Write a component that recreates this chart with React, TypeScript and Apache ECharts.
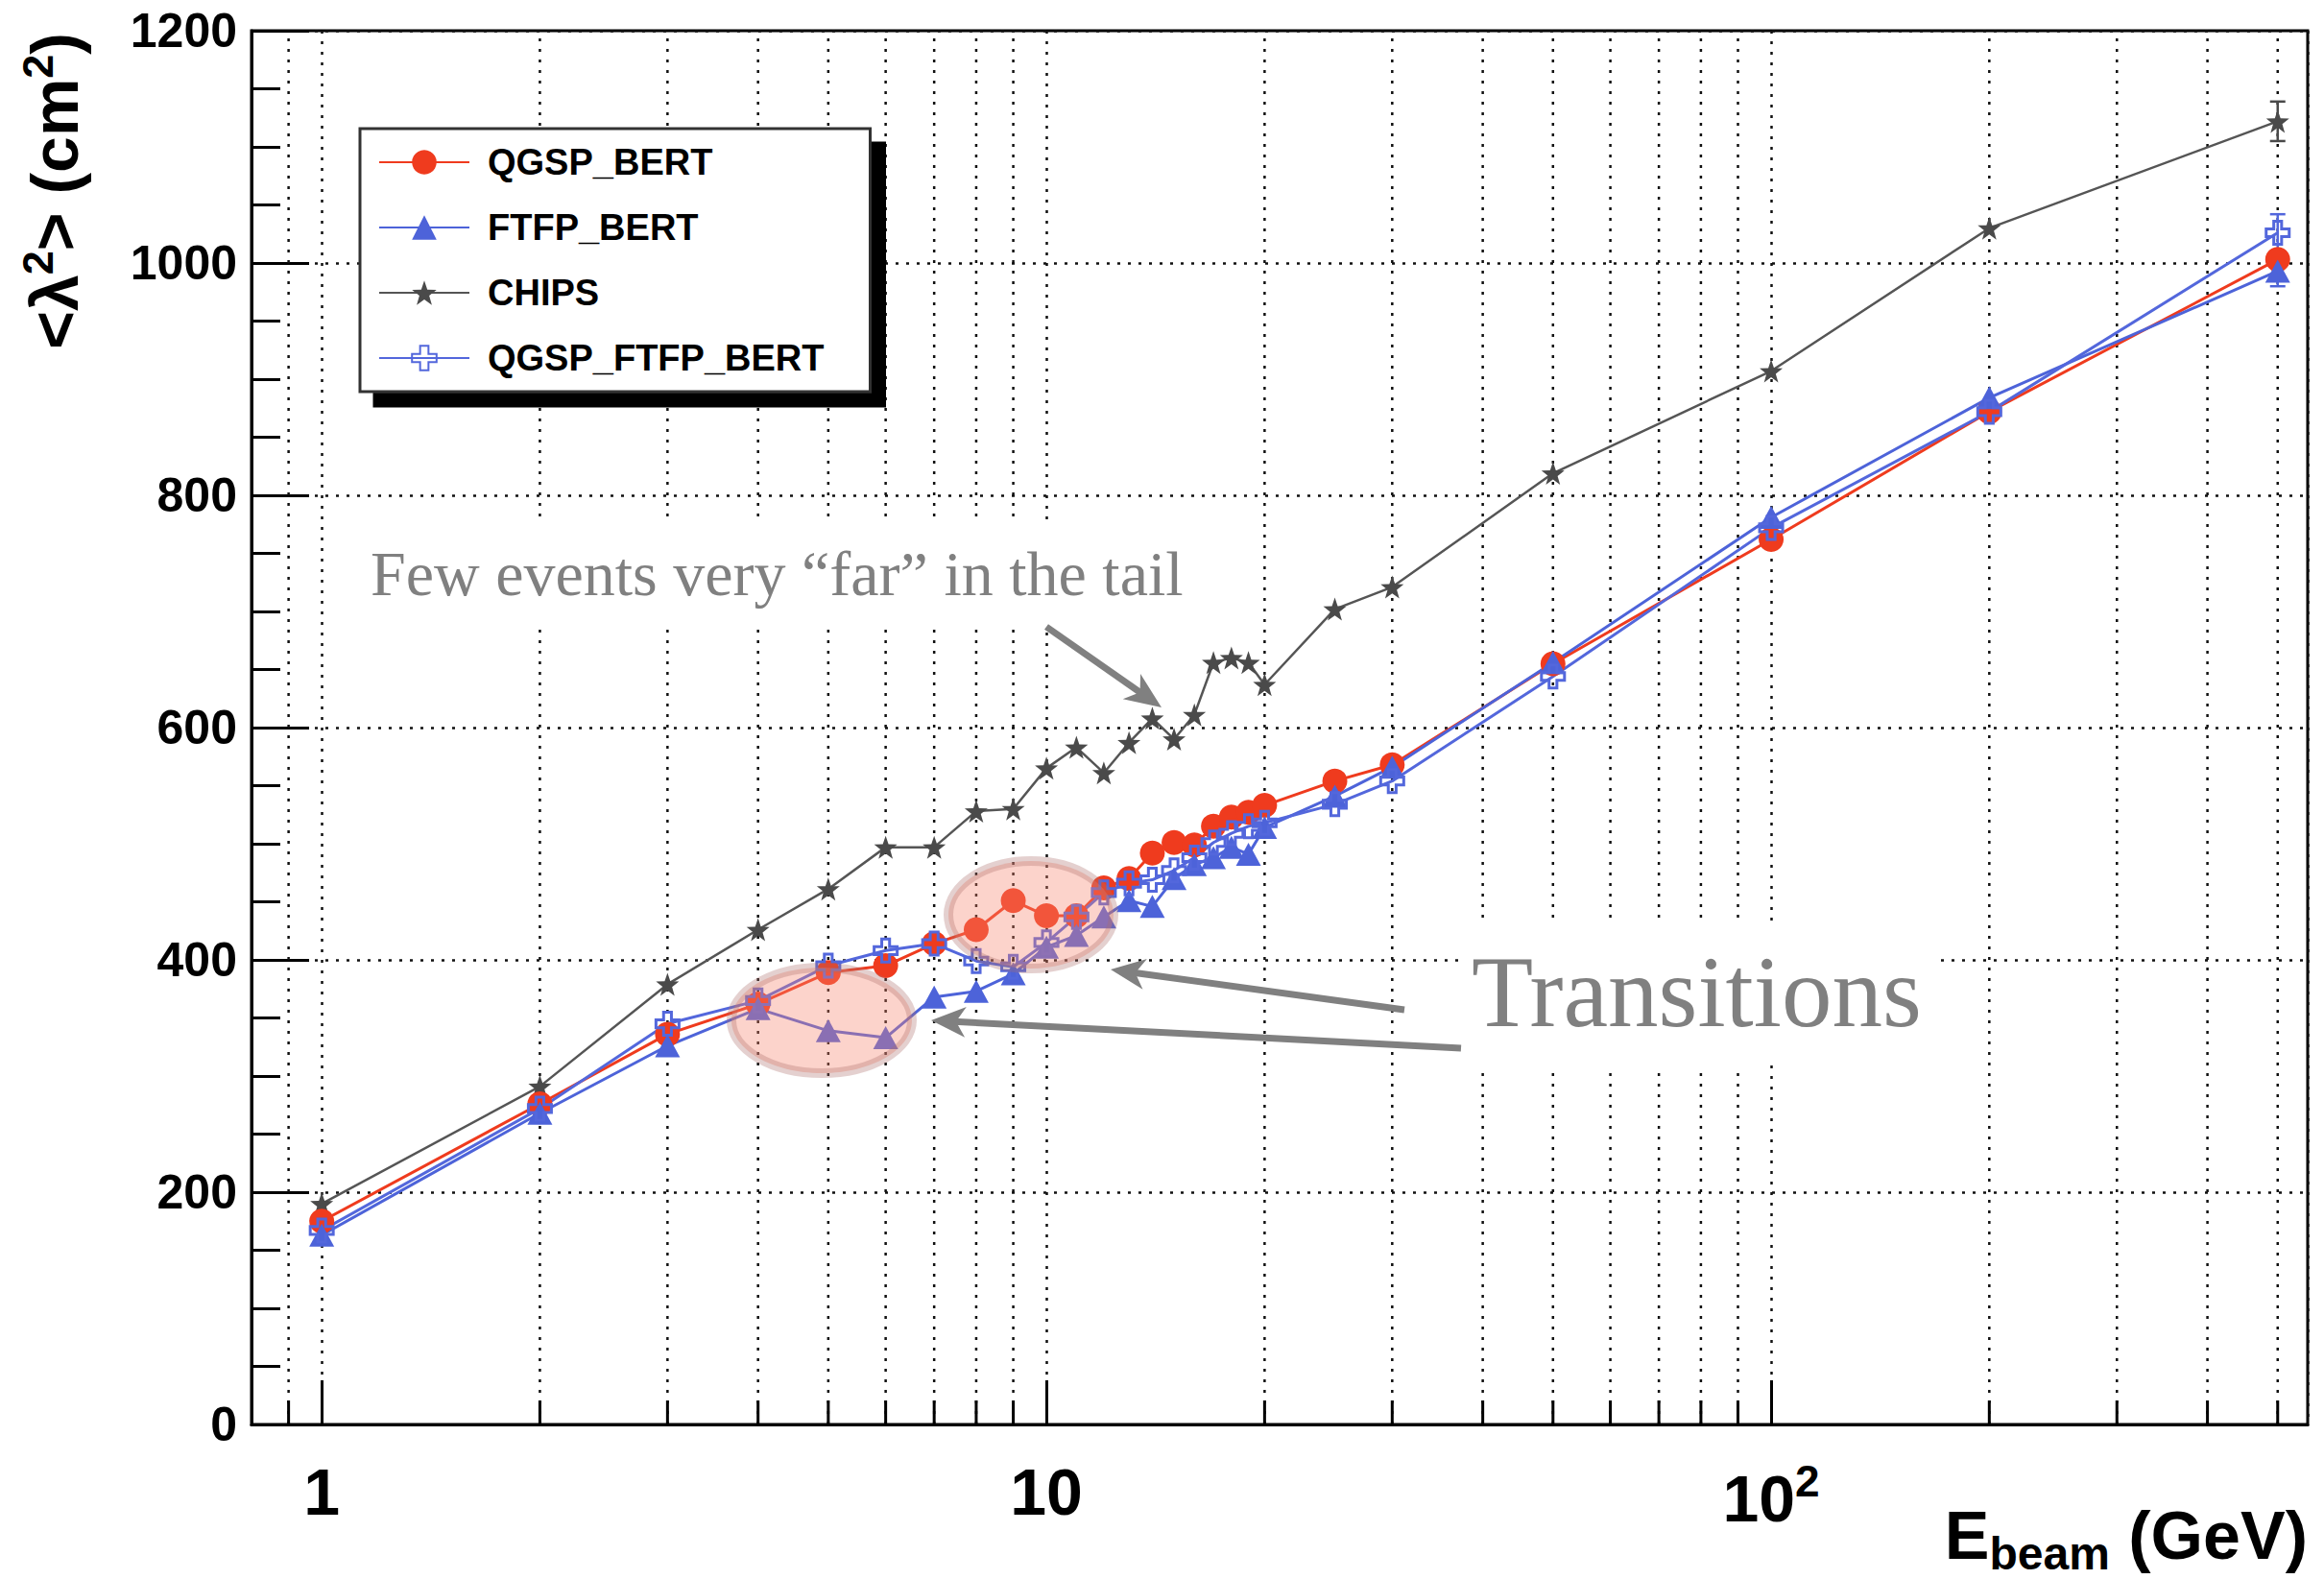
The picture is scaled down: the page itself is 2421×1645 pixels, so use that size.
import React, { useEffect, useRef } from "react";
import * as echarts from "echarts";

// ---------------- data ----------------
const energies = [1, 2, 3, 4, 5, 6, 7, 8, 9, 10, 11, 12, 13, 14, 15, 16, 17, 18, 19, 20, 25, 30, 50, 100, 200, 500];
const qgspBert = [175, 276, 336, 362, 389, 395, 414, 426, 451, 438, 438, 462, 470, 492, 501, 499, 515, 523, 527, 533, 554, 568, 655, 762, 872, 1003];
const ftfpBert = [163, 268, 326, 358, 339, 333, 368, 373, 388, 411, 421, 437, 451, 446, 470, 482, 488, 497, 491, 514, 541, 566, 656, 781, 884, 993];
const chips = [190, 291, 379, 426, 461, 497, 497, 528, 530, 565, 583, 561, 587, 608, 590, 611, 656, 660, 656, 637, 702, 721, 819, 907, 1030, 1122];
const qgspFtfpBert = [167, 272, 345, 365, 395, 408, 414, 399, 394, 415, 437, 458, 466, 469, 477, 488, 501, 509, 515, 518, 534, 554, 644, 772, 872, 1026];

const seriesNames = ["QGSP_BERT", "FTFP_BERT", "CHIPS", "QGSP_FTFP_BERT"];

// error bars visible at the highest energy
const errSeries = ["CHIPS", "QGSP_FTFP_BERT", "FTFP_BERT"];
const errE = [500, 500, 500];
const errLo = [1105, 1010, 980];
const errHi = [1139, 1042, 1005];

// minor log ticks / grid lines
const xMinorTicks = [0.9, 2, 3, 4, 5, 6, 7, 8, 9, 20, 30, 40, 50, 60, 70, 80, 90, 200, 300, 400, 500];

const X_MIN = 0.8;
const X_MAX = 550;
const Y_MIN = 0;
const Y_MAX = 1200;

// ---------------- styles ----------------
const RED = "#ef3b1e";
const BLUE = "#4d63d9";
const BLUE2 = "#5367dc";
const GRAY = "#4a4a4a";
const colorOf: Record<string, string> = {
  QGSP_BERT: RED,
  FTFP_BERT: BLUE,
  CHIPS: GRAY,
  QGSP_FTFP_BERT: BLUE2,
};

const STAR =
  "path://M50,0L61.8,33.8L97.6,34.5L69,56.2L79.4,90.5L50,70L20.6,90.5L31,56.2L2.4,34.5L38.2,33.8Z";
const CROSS = "path://M33,0H67V33H100V67H67V100H33V67H0V33H33Z";

const FONT = "Liberation Sans";
const SERIF = "Liberation Serif";
const GRID_DASH = [3, 8];

function pairs(vals: number[]) {
  return energies.map((e, i) => [e, vals[i]]);
}

function arrow(x1: number, y1: number, x2: number, y2: number, w: number, headLen: number, headW: number) {
  const dx = x2 - x1;
  const dy = y2 - y1;
  const len = Math.sqrt(dx * dx + dy * dy);
  const ux = dx / len;
  const uy = dy / len;
  const px = -uy;
  const py = ux;
  const bx = x2 - ux * headLen;
  const by = y2 - uy * headLen;
  const nx = x2 - ux * headLen * 0.72;
  const ny = y2 - uy * headLen * 0.72;
  const col = "#808080";
  return [
    {
      type: "line",
      z: 20,
      shape: { x1, y1, x2: nx + ux * 2, y2: ny + uy * 2 },
      style: { stroke: col, lineWidth: w },
    },
    {
      type: "polygon",
      z: 20,
      shape: {
        points: [
          [x2, y2],
          [bx + px * headW, by + py * headW],
          [nx, ny],
          [bx - px * headW, by - py * headW],
        ],
      },
      style: { fill: col },
    },
  ];
}

function buildOption() {
  const lineSeries = [
    {
      name: "CHIPS",
      data: pairs(chips),
      symbol: STAR,
      symbolSize: 24,
      itemStyle: { color: GRAY },
      lineStyle: { color: "#555555", width: 2.5 },
    },
    {
      name: "QGSP_BERT",
      data: pairs(qgspBert),
      symbol: "circle",
      symbolSize: 26,
      itemStyle: { color: RED },
      lineStyle: { color: RED, width: 3 },
    },
    {
      name: "FTFP_BERT",
      data: pairs(ftfpBert),
      symbol: "triangle",
      symbolSize: [26, 24],
      itemStyle: { color: BLUE },
      lineStyle: { color: BLUE, width: 3 },
    },
    {
      name: "QGSP_FTFP_BERT",
      data: pairs(qgspFtfpBert),
      symbol: CROSS,
      symbolSize: 24,
      itemStyle: { color: "rgba(255,255,255,0)", borderColor: BLUE2, borderWidth: 3 },
      lineStyle: { color: BLUE2, width: 3 },
    },
  ].map((s) => ({
    type: "line",
    showSymbol: true,
    z: 3,
    emphasis: { disabled: true },
    silent: true,
    ...s,
  }));

  const minorGridSeries = {
    type: "custom",
    name: "minorGrid",
    silent: true,
    z: 1,
    data: xMinorTicks.map((v) => [v, Y_MIN]),
    renderItem: (params: any, api: any) => {
      const v = api.value(0);
      const b = api.coord([v, Y_MIN]);
      const t = api.coord([v, Y_MAX]);
      return {
        type: "group",
        children: [
          {
            type: "line",
            shape: { x1: b[0], y1: b[1], x2: t[0], y2: t[1] },
            style: { stroke: "#111", lineWidth: 2.5, lineDash: GRID_DASH },
          },
          {
            type: "line",
            shape: { x1: b[0], y1: b[1], x2: b[0], y2: b[1] - 25 },
            style: { stroke: "#000", lineWidth: 3 },
          },
        ],
      };
    },
  };

  const errorSeries = {
    type: "custom",
    name: "errors",
    silent: true,
    z: 2,
    data: errE.map((e, i) => [e, errLo[i], errHi[i], i]),
    renderItem: (params: any, api: any) => {
      const e = api.value(0);
      const lo = api.coord([e, api.value(1)]);
      const hi = api.coord([e, api.value(2)]);
      const col = colorOf[errSeries[api.value(3)]];
      const cw = 8;
      return {
        type: "group",
        children: [
          { type: "line", shape: { x1: lo[0], y1: lo[1], x2: hi[0], y2: hi[1] }, style: { stroke: col, lineWidth: 2.5 } },
          { type: "line", shape: { x1: lo[0] - cw, y1: lo[1], x2: lo[0] + cw, y2: lo[1] }, style: { stroke: col, lineWidth: 2.5 } },
          { type: "line", shape: { x1: hi[0] - cw, y1: hi[1], x2: hi[0] + cw, y2: hi[1] }, style: { stroke: col, lineWidth: 2.5 } },
        ],
      };
    },
  };

  const pinkFill = "rgba(246,132,112,0.36)";
  const pinkStroke = "rgba(170,110,105,0.32)";

  return {
    animation: false,
    backgroundColor: "#ffffff",
    textStyle: { fontFamily: FONT },
    grid: {
      left: 262,
      top: 32,
      right: 17,
      bottom: 161,
      show: true,
      borderColor: "#000",
      borderWidth: 3,
      backgroundColor: "transparent",
    },
    legend: {
      data: seriesNames,
      orient: "vertical",
      left: 375,
      top: 134,
      padding: [16, 48, 16, 19],
      itemWidth: 94,
      itemHeight: 32,
      itemGap: 30,
      selectedMode: false,
      backgroundColor: "#ffffff",
      borderColor: "#333333",
      borderWidth: 3,
      shadowColor: "#000000",
      shadowBlur: 0,
      shadowOffsetX: 15,
      shadowOffsetY: 15,
      textStyle: {
        fontFamily: FONT,
        fontWeight: "bold",
        fontSize: 38,
        color: "#000",
        padding: [0, 0, 0, 14],
      },
    },
    xAxis: {
      type: "log",
      logBase: 10,
      min: X_MIN,
      max: X_MAX,
      name: "{m|E}{sub|beam}{m| (GeV)}",
      nameLocation: "end",
      nameGap: 0,
      nameTextStyle: {
        align: "right",
        verticalAlign: "top",
        padding: [74, 0, 0, 0],
        rich: {
          m: { fontFamily: FONT, fontWeight: "bold", fontSize: 70, color: "#000" },
          sub: { fontFamily: FONT, fontWeight: "bold", fontSize: 48, color: "#000", padding: [36, 0, 0, 0] },
        },
      },
      axisLine: { show: true, onZero: false, lineStyle: { color: "#000", width: 3 } },
      axisTick: { show: true, inside: true, length: 46, lineStyle: { color: "#000", width: 3 } },
      minorTick: { show: false },
      splitLine: { show: true, lineStyle: { color: "#111", width: 2.5, type: GRID_DASH } },
      axisLabel: {
        show: true,
        margin: 36,
        showMinLabel: false,
        showMaxLabel: false,
        formatter: (v: number) => {
          const r = Math.round(v);
          if (r === 100) return "{n|10}{s|2}";
          return "{n|" + r + "}";
        },
        rich: {
          n: { fontFamily: FONT, fontWeight: "bold", fontSize: 68, color: "#000" },
          s: { fontFamily: FONT, fontWeight: "bold", fontSize: 46, color: "#000", padding: [0, 0, 36, 0] },
        },
      },
    },
    yAxis: {
      type: "value",
      min: Y_MIN,
      max: Y_MAX,
      interval: 200,
      axisLine: { show: true, onZero: false, lineStyle: { color: "#000", width: 3 } },
      axisTick: { show: true, inside: true, length: 60, lineStyle: { color: "#000", width: 3 } },
      minorTick: { show: true, splitNumber: 4, length: 30, lineStyle: { color: "#000", width: 3 } },
      splitLine: { show: true, lineStyle: { color: "#111", width: 2.5, type: GRID_DASH } },
      axisLabel: {
        margin: 15,
        fontFamily: FONT,
        fontWeight: "bold",
        fontSize: 50,
        color: "#000",
        formatter: (v: number) => String(Math.round(v)),
      },
    },
    series: [minorGridSeries, errorSeries, ...lineSeries],
    graphic: [
      // y axis title
      {
        type: "text",
        x: 96,
        y: 34,
        rotation: Math.PI / 2,
        z: 5,
        style: {
          text: "{a|<λ}{s|2}{a|> (cm}{s|2}{a|)}",
          align: "right",
          verticalAlign: "bottom",
          rich: {
            a: { fontFamily: FONT, fontWeight: "bold", fontSize: 68, fill: "#000" },
            s: { fontFamily: FONT, fontWeight: "bold", fontSize: 45, fill: "#000", padding: [0, 0, 34, 0] },
          },
        },
      },
      // annotation: few events
      {
        type: "rect",
        z: 4,
        shape: { x: 376, y: 545, width: 890, height: 106 },
        style: { fill: "#ffffff" },
      },
      {
        type: "text",
        z: 5,
        x: 386,
        y: 564,
        style: {
          text: "Few events very “far” in the tail",
          fontFamily: SERIF,
          fontSize: 66,
          fill: "#808080",
          align: "left",
          verticalAlign: "top",
        },
      },
      ...arrow(1090, 653, 1210, 737, 7, 38, 16),
      // annotation: transitions
      {
        type: "rect",
        z: 4,
        shape: { x: 1519, y: 962, width: 495, height: 148 },
        style: { fill: "#ffffff" },
      },
      {
        type: "text",
        z: 5,
        x: 1533,
        y: 981,
        style: {
          text: "Transitions",
          fontFamily: SERIF,
          fontSize: 105,
          fill: "#808080",
          align: "left",
          verticalAlign: "top",
        },
      },
      ...arrow(1463, 1052, 1157, 1010, 7, 36, 16),
      ...arrow(1522, 1092, 970, 1063, 7, 36, 16),
      // highlight ellipses
      {
        type: "ellipse",
        z: 15,
        shape: { cx: 856, cy: 1063, rx: 94, ry: 55 },
        style: { fill: pinkFill, stroke: pinkStroke, lineWidth: 10 },
      },
      {
        type: "ellipse",
        z: 15,
        shape: { cx: 1074, cy: 953, rx: 86, ry: 56 },
        style: { fill: pinkFill, stroke: pinkStroke, lineWidth: 10 },
      },
    ],
  };
}

export default function App() {
  const ref = useRef<HTMLDivElement>(null);
  useEffect(() => {
    if (!ref.current) return;
    const chart = echarts.init(ref.current, null, { renderer: "svg" });
    chart.setOption(buildOption() as any);
    return () => {
      chart.dispose();
    };
  }, []);
  return (
    <div
      ref={ref}
      style={{ position: "absolute", left: 0, top: 0, width: 2421, height: 1645, background: "#fff" }}
    />
  );
}
